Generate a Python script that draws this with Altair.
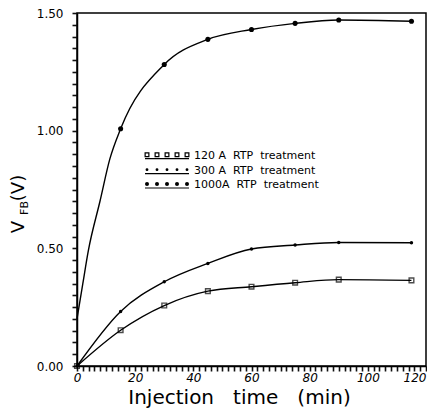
import altair as alt
import pandas as pd

# ---- data ----
times = [0, 15, 30, 45, 60, 75, 90, 115]
v_120 = [0.0, 0.152, 0.257, 0.318, 0.337, 0.354, 0.367, 0.364]
v_300 = [0.0, 0.232, 0.358, 0.436, 0.497, 0.514, 0.525, 0.524]
t_1000 = [15, 30, 45, 60, 75, 90, 115]
v_1000 = [1.008, 1.281, 1.388, 1.430, 1.456, 1.470, 1.465]
# unmarked points read along the steep start of the 1000A curve
t_1000_start = [0, 2, 3.9, 7.9, 11.3]
v_1000_start = [0.20, 0.35, 0.49, 0.70, 0.88]

NB = "\u00a0"
legend_labels = [
    f"120{NB}A{NB}{NB}RTP{NB}{NB}treatment",
    f"300{NB}A{NB}{NB}RTP{NB}{NB}treatment",
    f"1000A{NB}{NB}RTP{NB}{NB}treatment",
]
x_title = f"Injection{NB}{NB}{NB}time{NB}{NB}{NB}(min)"

FONT = "DejaVu Sans"

df120 = pd.DataFrame({"t": times, "v": v_120, "s": "120"})
df300 = pd.DataFrame({"t": times, "v": v_300, "s": "300"})
df1000 = pd.DataFrame({"t": t_1000, "v": v_1000, "s": "1000"})
df1000_line = pd.DataFrame({"t": t_1000_start + t_1000,
                            "v": v_1000_start + v_1000, "s": "1000"})
lines_df = pd.concat([df120, df300, df1000_line], ignore_index=True)

x_ticks = list(range(0, 121, 2))
y_ticks = [round(i * 0.05, 2) for i in range(0, 31)]

x_axis = alt.Axis(values=x_ticks,
                  labelExpr="datum.value % 20 == 0 ? datum.label : ''",
                  format="d", grid=False, domainColor="black", domainWidth=1.5,
                  ticks=True, tickColor="#111111", tickSize=5, tickWidth=1.6, tickOpacity=1,
                  labelFont=FONT, labelFontSize=12, labelFontStyle="italic",
                  labelColor="black", labelPadding=1, labelFlush=False,
                  labelOverlap=False,
                  labelAlign={"condition": {"test": "datum.value == 120", "value": "right"},
                              "value": "center"},
                  title=x_title, titleFont=FONT, titleFontSize=20,
                  titleFontWeight="normal", titleColor="black",
                  titleX=162, titleY=37, titleBaseline="alphabetic")
y_axis = alt.Axis(values=y_ticks,
                  labelExpr="abs(datum.value*2 - round(datum.value*2)) < 0.001 ? format(datum.value, '.2f') : ''",
                  grid=False, domainColor="black", domainWidth=1.5,
                  ticks=True, tickColor="#111111", tickSize=5, tickWidth=1.6, tickOpacity=1,
                  labelFont=FONT, labelFontSize=12, labelColor="black",
                  labelPadding=9, labelFlush=False, labelOverlap=False,
                  title=None)

xs = alt.Scale(domain=[0, 120], nice=False, zero=False)
ys = alt.Scale(domain=[0, 1.5], nice=False)
X = alt.X("t:Q", scale=xs, axis=x_axis)
Y = alt.Y("v:Q", scale=ys, axis=y_axis)

lines = alt.Chart(lines_df).mark_line(
    interpolate="monotone", color="black", strokeWidth=1.4
).encode(x=X, y=Y, detail="s:N")

pts120 = alt.Chart(df120).mark_point(
    shape="square", size=22, filled=False, color="black", strokeWidth=1.4
).encode(x=X, y=Y)
pts300 = alt.Chart(df300).mark_point(
    shape="circle", size=12, filled=True, color="black", opacity=1
).encode(x=X, y=Y)
pts1000 = alt.Chart(df1000).mark_point(
    shape="circle", size=26, filled=True, color="black", opacity=1
).encode(x=X, y=Y)

# ---- hand-drawn legend (pixel positions inside the plot) ----
leg_rows = [142.7, 157.7, 172.0]
leg_marks = [("square", 14, False), ("circle", 8, True), ("circle", 16, True)]
legend_layers = []
for i, lab in enumerate(legend_labels):
    ry = leg_rows[i]
    kdf = pd.DataFrame({"k": [0, 1, 2, 3, 4]})
    shape, size, filled = leg_marks[i]
    legend_layers.append(
        alt.Chart(kdf).mark_point(shape=shape, size=size, filled=filled,
                                  color="black", strokeWidth=1.2, opacity=1)
        .transform_calculate(px="70 + 10*datum.k")
        .encode(x=alt.X("px:Q", scale=None), y=alt.value(ry - 1))
    )
    legend_layers.append(
        alt.Chart(pd.DataFrame({"a": [0]})).mark_rule(color="black", strokeWidth=1.2)
        .encode(x=alt.value(68), x2=alt.value(112), y=alt.value(ry + 3))
    )
    legend_layers.append(
        alt.Chart(pd.DataFrame({"label": [lab]})).mark_text(
            align="left", baseline="middle", font=FONT, fontSize=11, color="black"
        ).encode(x=alt.value(117), y=alt.value(ry), text="label:N")
    )

# ---- y title V_FB(V) ----
ytitle = [
    ("(V)", -58, 175, 18),
    ("FB", -52.5, 195, 11),
    ("V", -58, 214, 18),
]
ytitle_layers = []
for txt, tx, ty, fs in ytitle:
    ytitle_layers.append(
        alt.Chart(pd.DataFrame({"label": [txt]})).mark_text(
            align="center", baseline="middle", angle=270, font=FONT,
            fontSize=fs, color="black"
        ).encode(x=alt.value(tx), y=alt.value(ty), text="label:N")
    )

chart = alt.layer(lines, pts120, pts300, pts1000, *legend_layers, *ytitle_layers).properties(
    width=349, height=353,
    autosize=alt.AutoSizeParams(type="none"),
    padding={"left": 69, "top": 5, "right": 1, "bottom": 42},
    background="white",
).configure_view(stroke="black", strokeWidth=1.5)

chart.save("out.html", embed_options={"renderer": "svg", "actions": False})
